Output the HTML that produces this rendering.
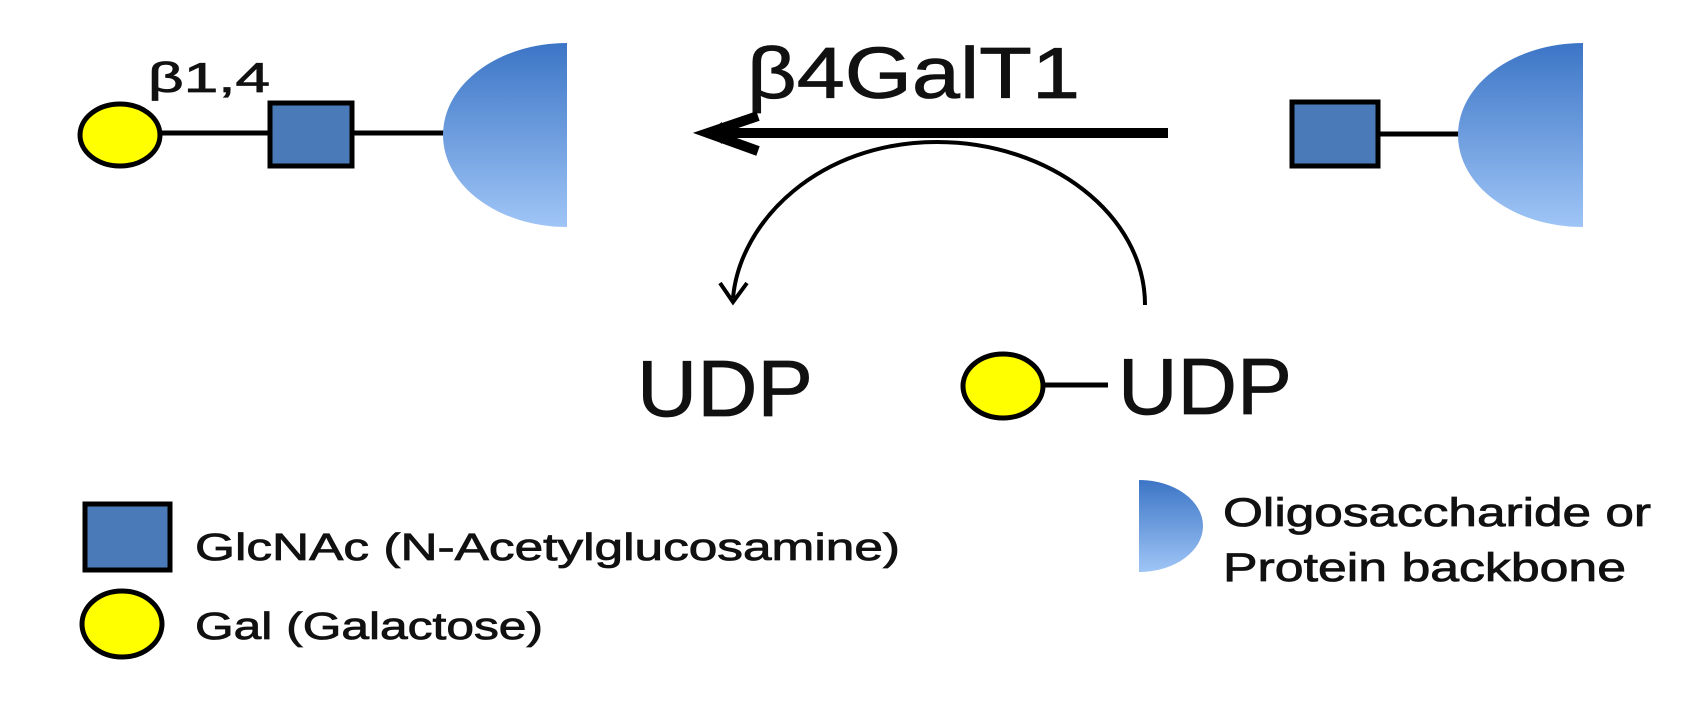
<!DOCTYPE html>
<html><head><meta charset="utf-8"><style>
html,body{margin:0;padding:0;background:#fff;width:1700px;height:709px;overflow:hidden}
svg{display:block}
text{font-family:"Liberation Sans",sans-serif;fill:#111;stroke:#111;stroke-width:0.8}
</style></head><body>
<svg width="1700" height="709" viewBox="0 0 1700 709" xmlns="http://www.w3.org/2000/svg">
<defs>
<linearGradient id="g" x1="0" y1="0" x2="0" y2="1">
<stop offset="0" stop-color="#3c75c6"/><stop offset="1" stop-color="#9fc5f6"/>
</linearGradient>
</defs>
<!-- left product -->
<line x1="150" y1="133" x2="445" y2="133" stroke="#000" stroke-width="5"/>
<ellipse cx="120" cy="135" rx="40" ry="31" fill="#ffff00" stroke="#000" stroke-width="5"/>
<rect x="270" y="103" width="82" height="63" fill="#4a7bb8" stroke="#000" stroke-width="5"/>
<path d="M567 43 A124 92 0 0 0 567 227 Z" fill="url(#g)"/>
<text x="148" y="92" font-size="42" textLength="122" lengthAdjust="spacingAndGlyphs">β1,4</text>
<!-- enzyme arrow -->
<text x="747" y="98" font-size="72" textLength="333" lengthAdjust="spacingAndGlyphs">β4GalT1</text>
<line x1="1168" y1="133" x2="718" y2="133" stroke="#000" stroke-width="10"/>
<path d="M758 116 L708 133 L758 151" fill="none" stroke="#000" stroke-width="10" stroke-linejoin="miter"/>
<path d="M707 133 L722 122 L722 144 Z" fill="#000"/>
<!-- arc -->
<path d="M1145 305 C1145 215 1050 142 937 142 C820 142 740 220 733 298" fill="none" stroke="#000" stroke-width="4"/>
<path d="M720 283 L733 302 L747 283" fill="none" stroke="#000" stroke-width="4"/>
<!-- UDP -->
<text x="637" y="416" font-size="80" textLength="176" lengthAdjust="spacingAndGlyphs">UDP</text>
<ellipse cx="1003" cy="386" rx="40" ry="32" fill="#ffff00" stroke="#000" stroke-width="5"/>
<line x1="1045" y1="385" x2="1108" y2="385" stroke="#000" stroke-width="5"/>
<text x="1118" y="414" font-size="80" textLength="174" lengthAdjust="spacingAndGlyphs">UDP</text>
<!-- right substrate -->
<line x1="1380" y1="134" x2="1460" y2="134" stroke="#000" stroke-width="5"/>
<rect x="1292" y="102" width="86" height="64" fill="#4a7bb8" stroke="#000" stroke-width="5"/>
<path d="M1583 43 A125 92 0 0 0 1583 227 Z" fill="url(#g)"/>
<!-- legend -->
<rect x="85" y="504" width="85" height="66" fill="#4a7bb8" stroke="#000" stroke-width="5"/>
<text x="195" y="560" font-size="38" textLength="705" lengthAdjust="spacingAndGlyphs">GlcNAc (N-Acetylglucosamine)</text>
<ellipse cx="122" cy="624" rx="40" ry="33" fill="#ffff00" stroke="#000" stroke-width="5"/>
<text x="195" y="639" font-size="38" textLength="348" lengthAdjust="spacingAndGlyphs">Gal (Galactose)</text>
<path d="M1139 480 A64 46 0 0 1 1139 572 Z" fill="url(#g)"/>
<text x="1223" y="526" font-size="40" textLength="428" lengthAdjust="spacingAndGlyphs">Oligosaccharide or</text>
<text x="1223" y="581" font-size="40" textLength="403" lengthAdjust="spacingAndGlyphs">Protein backbone</text>
</svg>
</body></html>
